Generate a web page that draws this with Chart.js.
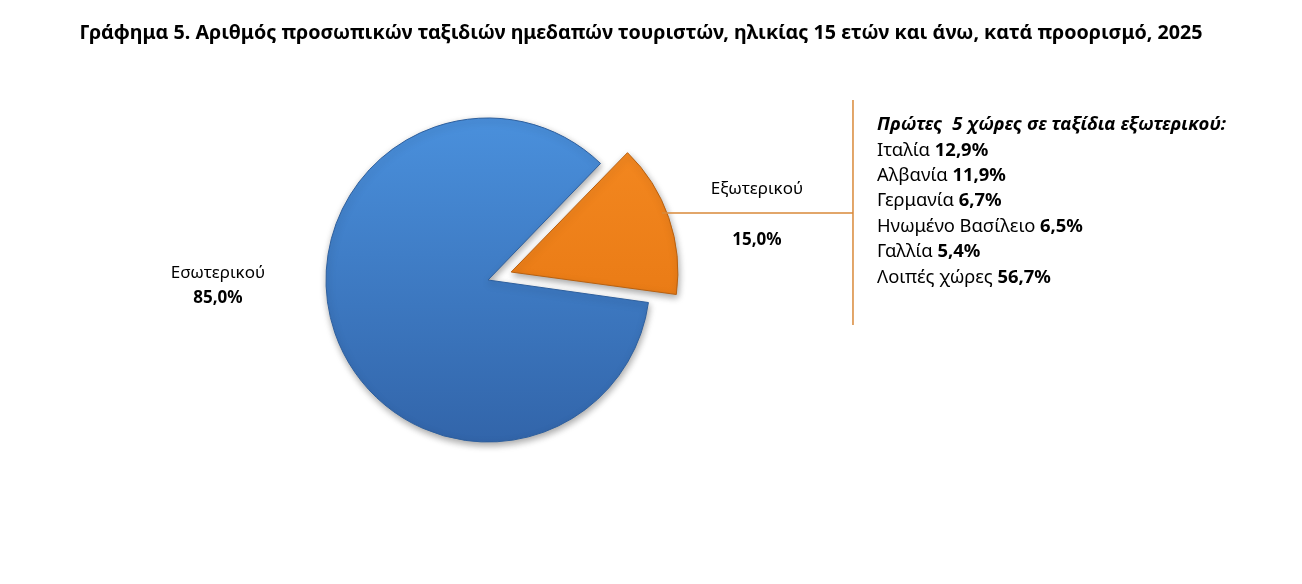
<!DOCTYPE html>
<html>
<head>
<meta charset="utf-8">
<script src="https://cdn.jsdelivr.net/npm/chart.js@4.4.1/dist/chart.umd.min.js"></script>
<style>
  html, body { margin: 0; padding: 0; background: #fff; }
  #wrap { position: relative; width: 1302px; height: 584px; }
</style>
</head>
<body>
<div id="wrap"><canvas id="tripsPie" width="1302" height="584"></canvas></div>
<script>
// data
const chartTitle = 'Γράφημα 5. Αριθμός προσωπικών ταξιδιών ημεδαπών τουριστών, ηλικίας 15 ετών και άνω, κατά προορισμό, 2025';
const categories = ['Εσωτερικού', 'Εξωτερικού'];
const shares = [85.0, 15.0];
const topTitle = 'Πρώτες  5 χώρες σε ταξίδια εξωτερικού:';
const countries = ['Ιταλία', 'Αλβανία', 'Γερμανία', 'Ηνωμένο Βασίλειο', 'Γαλλία', 'Λοιπές χώρες'];
const countryShares = [12.9, 11.9, 6.7, 6.5, 5.4, 56.7];

const FONT = '"Noto Sans", "DejaVu Sans", sans-serif';
const fmt = v => v.toFixed(1).replace('.', ',') + '%';

// top/bottom gradient colours to fake the excel bevel look
const fills = [['#4a90dc', '#3265aa'], ['#f58a22', '#e2710d']];
const borders = ['#2d5f9e', '#b8600f'];

function gradFill(context) {
    const chart = context.chart;
    const area = chart.chartArea;
    const pair = fills[context.dataIndex];
    if (!area) return pair[0];
    const cy = (area.top + area.bottom) / 2;
    const r = 162;
    const g = chart.ctx.createLinearGradient(0, cy - r, 0, cy + r);
    g.addColorStop(0, pair[0]);
    g.addColorStop(1, pair[1]);
    return g;
}

// soft shadow under the pie
const shadowPlugin = {
    id: 'pieShadow',
    beforeDatasetsDraw(chart) {
        const ctx = chart.ctx;
        ctx.save();
        ctx.shadowColor = 'rgba(0,0,0,0.35)';
        ctx.shadowBlur = 7;
        ctx.shadowOffsetX = 1;
        ctx.shadowOffsetY = 3;
    },
    afterDatasetsDraw(chart) {
        chart.ctx.restore();
    }
};

// title, slice labels, leader line and the side list
const textPlugin = {
    id: 'pieTexts',
    afterDraw(chart) {
        const ctx = chart.ctx;
        const arcs = chart.getDatasetMeta(0).data;
        const inner = arcs[0];
        const cx = inner.x, cy = inner.y, r = inner.outerRadius;

        ctx.save();
        ctx.fillStyle = '#000';
        ctx.textBaseline = 'middle';

        // title
        ctx.textAlign = 'center';
        ctx.font = 'bold 19.7px ' + FONT;
        ctx.fillText(chartTitle, 641, 33);

        // domestic label (left of the pie)
        ctx.font = '17px ' + FONT;
        ctx.fillText(categories[0], cx - r * 1.667, cy - 7);
        ctx.font = 'bold 17px ' + FONT;
        ctx.fillText(fmt(shares[0]), cx - r * 1.667, cy + 18);

        // abroad label
        ctx.font = '17px ' + FONT;
        ctx.fillText(categories[1], cx + r * 1.66, cy - 91);
        ctx.font = 'bold 17px ' + FONT;
        ctx.fillText(fmt(shares[1]), cx + r * 1.66, cy - 40);

        // leader line from the exploded slice to the bracket
        // (arc element moves by offset / 4)
        const out = arcs[1];
        const mid = (out.startAngle + out.endAngle) / 2;
        const off = (out.options.offset || 0) / 4;
        const ox = out.x + Math.cos(mid) * off;
        const oy = out.y + Math.sin(mid) * off;
        const ly = cy - 67;
        const lx0 = ox + Math.sqrt(r * r - (ly - oy) * (ly - oy));
        const bx = cx + r * 2.253;
        ctx.strokeStyle = '#d9893a';
        ctx.lineWidth = 1.5;
        ctx.beginPath();
        ctx.moveTo(lx0, ly);
        ctx.lineTo(bx, ly);
        ctx.moveTo(bx, cy - 180);
        ctx.lineTo(bx, cy + 45);
        ctx.stroke();

        // side list of top countries
        const tx = bx + 24;
        let y = cy - 155;
        ctx.textAlign = 'left';
        ctx.font = 'italic bold 18.5px ' + FONT;
        ctx.fillText(topTitle, tx, y);
        countries.forEach((name, i) => {
            y += 25.4;
            ctx.font = '18.4px ' + FONT;
            const label = name + ' ';
            ctx.fillText(label, tx, y);
            const w = ctx.measureText(label).width;
            ctx.font = 'bold 18.4px ' + FONT;
            ctx.fillText(fmt(countryShares[i]), tx + w, y);
        });
        ctx.restore();
    }
};

new Chart(document.getElementById('tripsPie').getContext('2d'), {
    type: 'pie',
    data: {
        labels: categories,
        datasets: [{
            data: shares,
            backgroundColor: gradFill,
            borderColor: borders,
            borderWidth: 1,
            offset: [0, 98],
            hoverOffset: 0,
            radius: 162
        }]
    },
    options: {
        responsive: false,
        animation: false,
        rotation: 98, // puts the small slice between about -46 and +8 degrees
        layout: { padding: { left: 0, right: 326, top: 0, bottom: 24 } },
        plugins: {
            legend: { display: false },
            tooltip: { enabled: false },
            title: { display: false }
        }
    },
    plugins: [shadowPlugin, textPlugin]
});
</script>
</body>
</html>
